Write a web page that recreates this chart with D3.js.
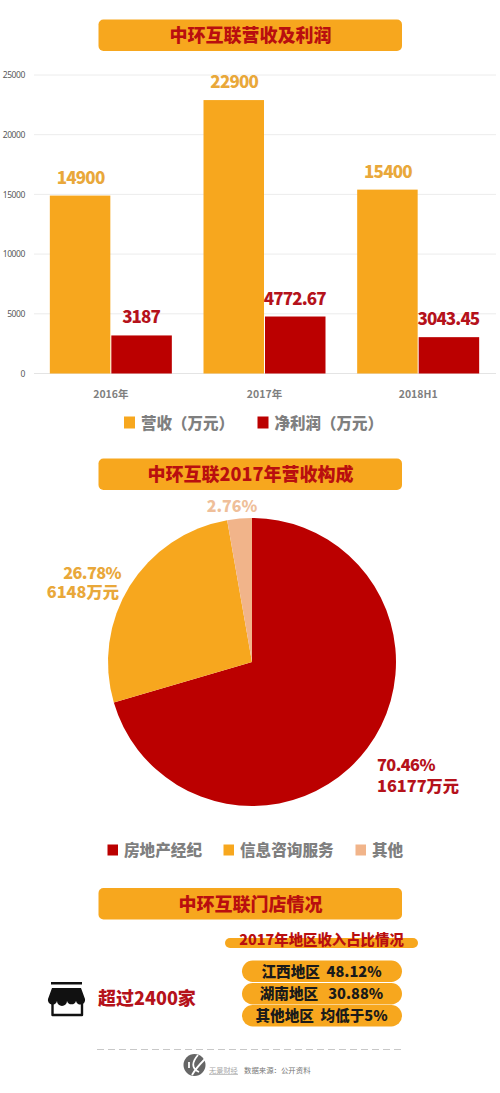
<!DOCTYPE html>
<html><head><meta charset="utf-8">
<script src="https://cdn.jsdelivr.net/npm/d3@7/dist/d3.min.js"></script>
<style>html,body{margin:0;padding:0;background:#fff}svg{display:block}
text{font-family:"Noto Sans CJK SC","Noto Sans",sans-serif}</style></head>
<body><svg id="c" width="500" height="1093"></svg>
<script>
const categories=["2016年","2017年","2018H1"];
const revenue=[14900,22900,15400];
const profit=[3187,4772.67,3043.45];
const profitLabels=["3187","4772.67","3043.45"];
const yTicks=[0,5000,10000,15000,20000,25000];
const seriesNames=["营收（万元）","净利润（万元）"];
const pieNames=["房地产经纪","信息咨询服务","其他"];
const pieValues=[70.46,26.78,2.76];
const regionRows=["江西地区  48.12%","湖南地区   30.88%","其他地区  均低于5%"];
const titles=["中环互联营收及利润","中环互联2017年营收构成","中环互联门店情况"];
const ORANGE="#f7a71e",RED="#bb0000",PEACH="#f1b48a",GREY="#7f7f7f",DARKRED="#b5121b",GOLD="#e9a83a";

const svg=d3.select("#c");
function T(x,y,s,size,fill,anchor="middle",weight=700,g=svg){
  return g.append("text").attr("x",x).attr("y",y).attr("text-anchor",anchor)
    .attr("font-size",size).attr("font-weight",weight).attr("fill",fill).text(s);
}
function T2(x,y,dy,a,b,size,fill,anchor,xb){
  const t=svg.append("text").attr("text-anchor",anchor).attr("font-size",size).attr("font-weight",900).attr("fill",fill);
  t.append("tspan").attr("x",x).attr("y",y).attr("letter-spacing",-0.6).text(a);
  t.append("tspan").attr("x",xb).attr("y",y+dy).text(b);
}
function titleBar(y,s){
  svg.append("rect").attr("x",98.5).attr("y",y).attr("width",303.5).attr("height",31.5).attr("rx",5).attr("fill",ORANGE);
  T(250.5,y+22.5,s,18,"#b90f0f","middle",900);
}
[19.5,458.5,888].forEach((y,i)=>titleBar(y,titles[i]));

// bars
const y=d3.scaleLinear().domain([0,25000]).range([373.5,75]);
const x0=d3.scaleBand().domain(categories).range([34,495]);
const barW=60.5;
const grid=svg.append("g");
const axisY=d3.axisLeft(y).tickValues(yTicks).tickSize(0).tickPadding(0).tickFormat(d3.format("d"));
const gy=svg.append("g").attr("transform","translate(25,0)").call(axisY);
gy.select(".domain").remove();
gy.selectAll("text").attr("font-size",8.5).attr("font-weight",400).attr("fill","#595959").attr("letter-spacing",-0.4)
  .style("font-family",'"Noto Sans",sans-serif');
grid.selectAll("line").data(yTicks).join("line").attr("x1",34).attr("x2",496)
  .attr("y1",d=>y(d)).attr("y2",d=>y(d)).attr("stroke",d=>d===0?"#e4e4e4":"#ececec").attr("stroke-width",1);
categories.forEach((c,i)=>{
  const cx=x0(c)+x0.bandwidth()/2;
  svg.append("rect").attr("x",cx-barW-0.5).attr("y",y(revenue[i])).attr("width",barW).attr("height",y(0)-y(revenue[i])).attr("fill",ORANGE);
  svg.append("rect").attr("x",cx+0.5).attr("y",y(profit[i])).attr("width",barW).attr("height",y(0)-y(profit[i])).attr("fill",RED);
  T(cx-barW/2,y(revenue[i])-12,String(revenue[i]),17,GOLD,"middle",900).attr("letter-spacing",-0.8);
  T(cx+barW/2,y(profit[i])-12,profitLabels[i],17,DARKRED,"middle",900).attr("letter-spacing",-0.9);
  T(cx,398,c,10.5,GREY);
});
// bar legend
const lg=[[124,seriesNames[0],ORANGE],[257.5,seriesNames[1],RED]];
lg.forEach(([lx,s,col])=>{
  svg.append("rect").attr("x",lx).attr("y",416.5).attr("width",11).attr("height",12).attr("fill",col);
  T(lx+17,428.5,s,15.5,GREY,"start",900);
});

// pie
const pie=d3.pie().sort(null)(pieValues);
const arc=d3.arc().innerRadius(0).outerRadius(144);
const colors=[RED,ORANGE,PEACH];
svg.append("g").attr("transform","translate(252,662)").selectAll("path").data(pie).join("path")
  .attr("d",arc).attr("fill",(d,i)=>colors[i]);
T2(377,771,21,"70.46%","16177万元",16.3,DARKRED,"start",377);
T2(121,579,19,"26.78%","6148万元",16.3,GOLD,"end",119);
T(232,512,"2.76%",16,"#efbf9a","middle",900);
// pie legend
[[107.5,0],[223.5,1],[355.5,2]].forEach(([lx,i])=>{
  svg.append("rect").attr("x",lx).attr("y",844.5).attr("width",10.5).attr("height",11).attr("fill",colors[i]);
  T(lx+16.5,855.5,pieNames[i],15.6,GREY,"start",900);
});

// stores
svg.append("rect").attr("x",225).attr("y",938).attr("width",193).attr("height",10).attr("rx",5).attr("fill",ORANGE);
T(321.5,945,"2017年地区收入占比情况",14.4,"#b90f0f","middle",900);
[[960.5,0],[983,1],[1005,2]].forEach(([ry,i])=>{
  svg.append("rect").attr("x",242).attr("y",ry).attr("width",160).attr("height",21.5).attr("rx",10.7).attr("fill",ORANGE);
  T(321.5,ry+16,regionRows[i],14.6,"#1a1a1a","middle",900).style("white-space","pre");
});
T(98,1005,"超过2400家",18,DARKRED,"start",900);

// store icon
const icon=svg.append("g").attr("fill","#111");
icon.append("rect").attr("x",51).attr("y",982).attr("width",31).attr("height",2.5);
icon.append("path").attr("d","M52 988H81L85 999A4.5 4.5 0 0 1 76 1001A4.7 4.7 0 0 1 67 1001A4.7 4.7 0 0 1 57 1001A4.5 4.5 0 0 1 48 999Z");
icon.append("path").attr("d","M52.5 1003V1015H82V1003").attr("fill","none").attr("stroke","#111").attr("stroke-width",2.4).attr("stroke-linejoin","round");

// footer
svg.append("line").attr("x1",97).attr("x2",404).attr("y1",1049.5).attr("y2",1049.5)
  .attr("stroke","#c8c8c8").attr("stroke-width",1).attr("stroke-dasharray","7 4");
svg.append("circle").attr("cx",194.5).attr("cy",1065).attr("r",11).attr("fill","#666");
svg.append("path").attr("d","M198 1055C192 1062 191 1068 199 1072M205 1059C200 1064 196 1068 192 1075M189 1062L189 1068")
  .attr("fill","none").attr("stroke","#fff").attr("stroke-width",1.8);
T(209,1072.5,"无景财经",7.2,"#a8a8a8","start",400);
svg.append("line").attr("x1",209).attr("x2",238).attr("y1",1074.5).attr("y2",1074.5).attr("stroke","#c4c4c4");
T(244,1072.5,"数据来源：公开资料",7.4,"#777","start",400);
</script></body></html>
